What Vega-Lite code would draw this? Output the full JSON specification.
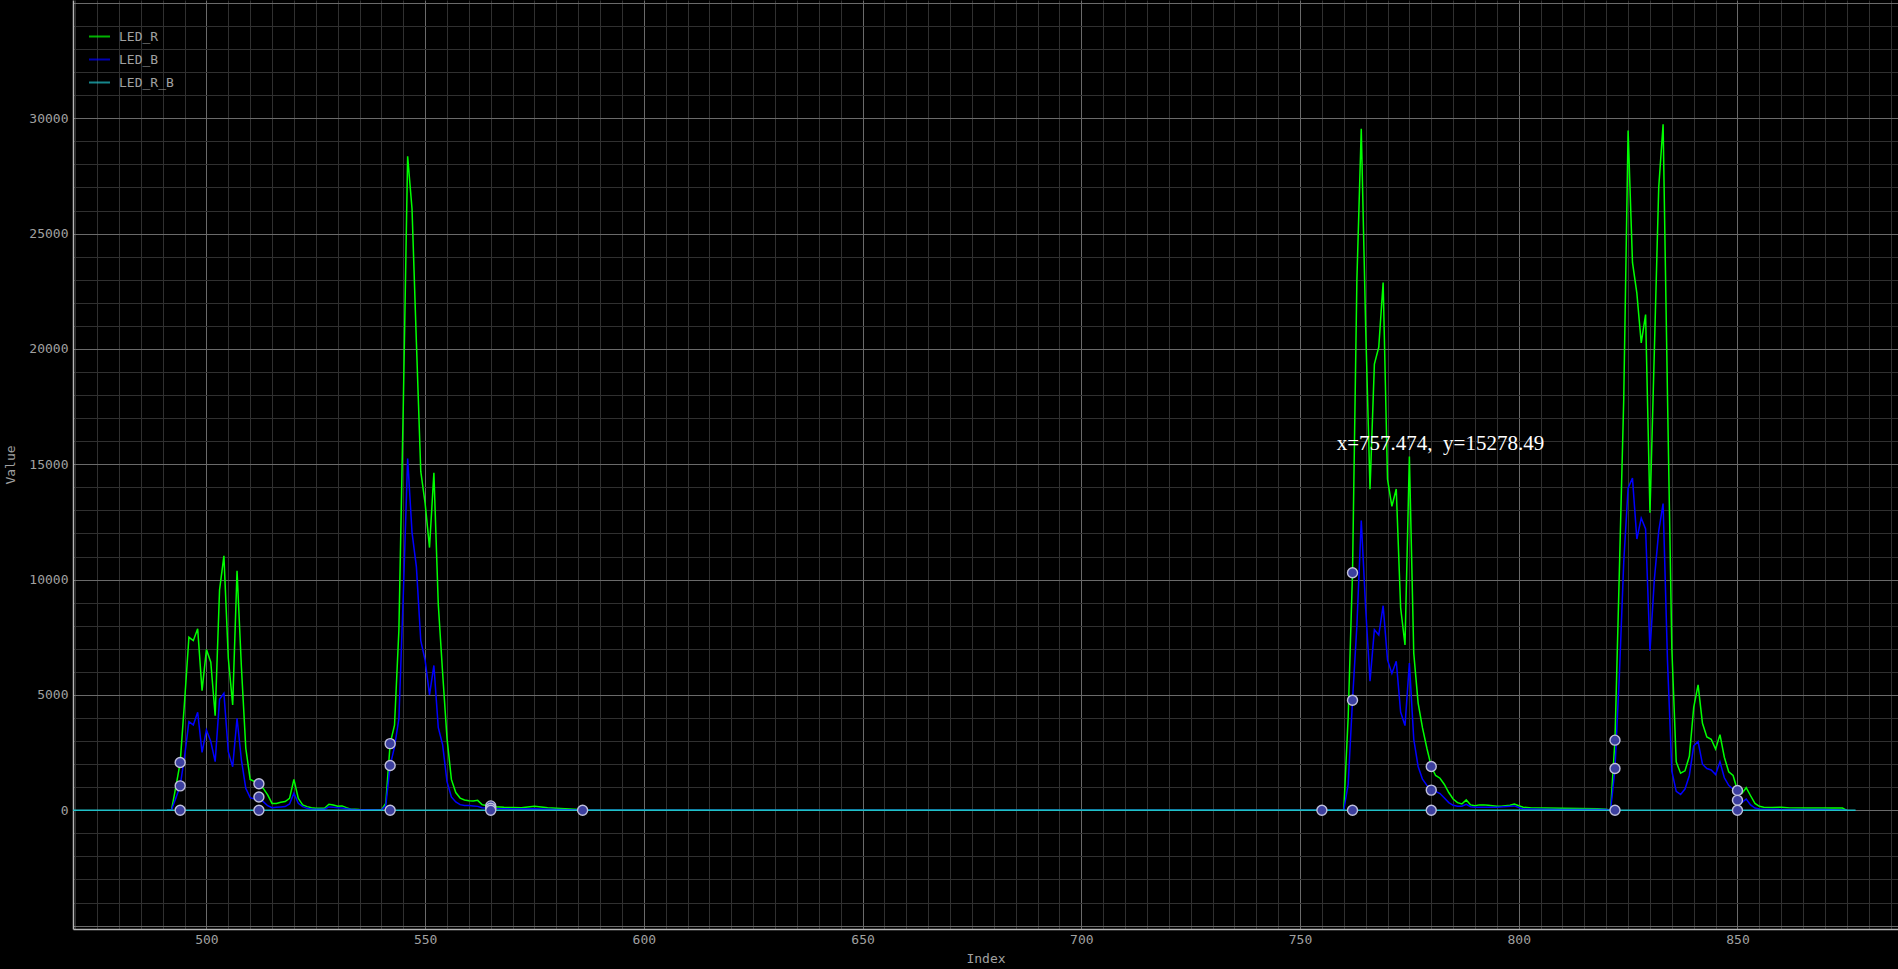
{
  "$schema": "https://vega.github.io/schema/vega-lite/v6.json",
  "width": 1825,
  "height": 929,
  "autosize": {"type": "none"},
  "padding": {"left": 73, "top": 0, "right": 0, "bottom": 40},
  "background": "#000000",
  "config": {
    "view": {"stroke": null, "fill": "#000000"},
    "font": "DejaVu Sans Mono",
    "axis": {
      "labelFont": "DejaVu Sans Mono",
      "labelFontSize": 13,
      "labelColor": "#a0a0a0",
      "titleFont": "DejaVu Sans Mono",
      "titleFontSize": 13,
      "titleColor": "#a0a0a0",
      "titleFontWeight": "normal",
      "domainColor": "#b4b4b4",
      "domainWidth": 1.5,
      "ticks": false,
      "tickSize": 0,
      "gridWidth": 1
    }
  },
  "datasets": {
    "lines": [
      {"i": 491, "s": "LED_R", "v": 0}, {"i": 492, "s": "LED_R", "v": 0}, {"i": 493, "s": "LED_R", "v": 1000}, {"i": 494, "s": "LED_R", "v": 2070},
      {"i": 495, "s": "LED_R", "v": 4700}, {"i": 496, "s": "LED_R", "v": 7500}, {"i": 497, "s": "LED_R", "v": 7355}, {"i": 498, "s": "LED_R", "v": 7870},
      {"i": 499, "s": "LED_R", "v": 5190}, {"i": 500, "s": "LED_R", "v": 6970}, {"i": 501, "s": "LED_R", "v": 6420}, {"i": 502, "s": "LED_R", "v": 4100},
      {"i": 503, "s": "LED_R", "v": 9550}, {"i": 504, "s": "LED_R", "v": 11030}, {"i": 505, "s": "LED_R", "v": 6600}, {"i": 506, "s": "LED_R", "v": 4570},
      {"i": 507, "s": "LED_R", "v": 10380}, {"i": 508, "s": "LED_R", "v": 6200}, {"i": 509, "s": "LED_R", "v": 2690}, {"i": 510, "s": "LED_R", "v": 1340},
      {"i": 511, "s": "LED_R", "v": 1250}, {"i": 512, "s": "LED_R", "v": 1150}, {"i": 513, "s": "LED_R", "v": 950}, {"i": 514, "s": "LED_R", "v": 670},
      {"i": 515, "s": "LED_R", "v": 300}, {"i": 516, "s": "LED_R", "v": 300}, {"i": 517, "s": "LED_R", "v": 350}, {"i": 518, "s": "LED_R", "v": 380},
      {"i": 519, "s": "LED_R", "v": 520}, {"i": 520, "s": "LED_R", "v": 1340}, {"i": 521, "s": "LED_R", "v": 520}, {"i": 522, "s": "LED_R", "v": 230},
      {"i": 523, "s": "LED_R", "v": 160}, {"i": 524, "s": "LED_R", "v": 115}, {"i": 525, "s": "LED_R", "v": 90}, {"i": 526, "s": "LED_R", "v": 90},
      {"i": 527, "s": "LED_R", "v": 90}, {"i": 528, "s": "LED_R", "v": 260}, {"i": 529, "s": "LED_R", "v": 230}, {"i": 530, "s": "LED_R", "v": 175},
      {"i": 531, "s": "LED_R", "v": 190}, {"i": 532, "s": "LED_R", "v": 115}, {"i": 533, "s": "LED_R", "v": 45}, {"i": 534, "s": "LED_R", "v": 45},
      {"i": 535, "s": "LED_R", "v": 35}, {"i": 537, "s": "LED_R", "v": 25}, {"i": 540, "s": "LED_R", "v": 20}, {"i": 541, "s": "LED_R", "v": 300},
      {"i": 542, "s": "LED_R", "v": 2890}, {"i": 543, "s": "LED_R", "v": 3690}, {"i": 544, "s": "LED_R", "v": 7820}, {"i": 545, "s": "LED_R", "v": 17500},
      {"i": 546, "s": "LED_R", "v": 28350}, {"i": 547, "s": "LED_R", "v": 26080}, {"i": 548, "s": "LED_R", "v": 20300}, {"i": 549, "s": "LED_R", "v": 14690},
      {"i": 550, "s": "LED_R", "v": 13300}, {"i": 551, "s": "LED_R", "v": 11390}, {"i": 552, "s": "LED_R", "v": 14630}, {"i": 553, "s": "LED_R", "v": 8950},
      {"i": 554, "s": "LED_R", "v": 5940}, {"i": 555, "s": "LED_R", "v": 3120}, {"i": 556, "s": "LED_R", "v": 1340}, {"i": 557, "s": "LED_R", "v": 770},
      {"i": 558, "s": "LED_R", "v": 530}, {"i": 559, "s": "LED_R", "v": 450}, {"i": 560, "s": "LED_R", "v": 410}, {"i": 561, "s": "LED_R", "v": 400},
      {"i": 562, "s": "LED_R", "v": 430}, {"i": 563, "s": "LED_R", "v": 245}, {"i": 564, "s": "LED_R", "v": 210}, {"i": 565, "s": "LED_R", "v": 190},
      {"i": 566, "s": "LED_R", "v": 150}, {"i": 568, "s": "LED_R", "v": 130}, {"i": 570, "s": "LED_R", "v": 120}, {"i": 572, "s": "LED_R", "v": 115},
      {"i": 574, "s": "LED_R", "v": 150}, {"i": 575, "s": "LED_R", "v": 170}, {"i": 576, "s": "LED_R", "v": 150}, {"i": 578, "s": "LED_R", "v": 110},
      {"i": 580, "s": "LED_R", "v": 90}, {"i": 582, "s": "LED_R", "v": 70}, {"i": 584, "s": "LED_R", "v": 45}, {"i": 585, "s": "LED_R", "v": 30},
      {"i": 586, "s": "LED_R", "v": 0}, {"i": 760, "s": "LED_R", "v": 0}, {"i": 761, "s": "LED_R", "v": 4000}, {"i": 762, "s": "LED_R", "v": 10300},
      {"i": 763, "s": "LED_R", "v": 23000}, {"i": 764, "s": "LED_R", "v": 29550}, {"i": 765, "s": "LED_R", "v": 21000}, {"i": 766, "s": "LED_R", "v": 13920},
      {"i": 767, "s": "LED_R", "v": 19340}, {"i": 768, "s": "LED_R", "v": 20080}, {"i": 769, "s": "LED_R", "v": 22880}, {"i": 770, "s": "LED_R", "v": 14350},
      {"i": 771, "s": "LED_R", "v": 13180}, {"i": 772, "s": "LED_R", "v": 13930}, {"i": 773, "s": "LED_R", "v": 8780}, {"i": 774, "s": "LED_R", "v": 7170},
      {"i": 775, "s": "LED_R", "v": 15340}, {"i": 776, "s": "LED_R", "v": 6810}, {"i": 777, "s": "LED_R", "v": 4650}, {"i": 778, "s": "LED_R", "v": 3570},
      {"i": 779, "s": "LED_R", "v": 2690}, {"i": 780, "s": "LED_R", "v": 1900}, {"i": 781, "s": "LED_R", "v": 1510}, {"i": 782, "s": "LED_R", "v": 1390},
      {"i": 783, "s": "LED_R", "v": 1120}, {"i": 784, "s": "LED_R", "v": 770}, {"i": 785, "s": "LED_R", "v": 490}, {"i": 786, "s": "LED_R", "v": 330},
      {"i": 787, "s": "LED_R", "v": 275}, {"i": 788, "s": "LED_R", "v": 450}, {"i": 789, "s": "LED_R", "v": 235}, {"i": 790, "s": "LED_R", "v": 195},
      {"i": 791, "s": "LED_R", "v": 235}, {"i": 792, "s": "LED_R", "v": 235}, {"i": 793, "s": "LED_R", "v": 215}, {"i": 794, "s": "LED_R", "v": 195},
      {"i": 795, "s": "LED_R", "v": 175}, {"i": 796, "s": "LED_R", "v": 175}, {"i": 797, "s": "LED_R", "v": 195}, {"i": 798, "s": "LED_R", "v": 215},
      {"i": 799, "s": "LED_R", "v": 275}, {"i": 800, "s": "LED_R", "v": 195}, {"i": 801, "s": "LED_R", "v": 135}, {"i": 803, "s": "LED_R", "v": 105},
      {"i": 806, "s": "LED_R", "v": 100}, {"i": 810, "s": "LED_R", "v": 90}, {"i": 814, "s": "LED_R", "v": 80}, {"i": 818, "s": "LED_R", "v": 65},
      {"i": 820, "s": "LED_R", "v": 45}, {"i": 821, "s": "LED_R", "v": 0}, {"i": 822, "s": "LED_R", "v": 3040}, {"i": 823, "s": "LED_R", "v": 10350},
      {"i": 824, "s": "LED_R", "v": 17800}, {"i": 825, "s": "LED_R", "v": 29470}, {"i": 826, "s": "LED_R", "v": 23750}, {"i": 827, "s": "LED_R", "v": 22420},
      {"i": 828, "s": "LED_R", "v": 20260}, {"i": 829, "s": "LED_R", "v": 21490}, {"i": 830, "s": "LED_R", "v": 12900}, {"i": 831, "s": "LED_R", "v": 19900},
      {"i": 832, "s": "LED_R", "v": 27000}, {"i": 833, "s": "LED_R", "v": 29740}, {"i": 834, "s": "LED_R", "v": 18000}, {"i": 835, "s": "LED_R", "v": 7000},
      {"i": 836, "s": "LED_R", "v": 2100}, {"i": 837, "s": "LED_R", "v": 1610}, {"i": 838, "s": "LED_R", "v": 1710}, {"i": 839, "s": "LED_R", "v": 2340},
      {"i": 840, "s": "LED_R", "v": 4460}, {"i": 841, "s": "LED_R", "v": 5440}, {"i": 842, "s": "LED_R", "v": 3770}, {"i": 843, "s": "LED_R", "v": 3180},
      {"i": 844, "s": "LED_R", "v": 3080}, {"i": 845, "s": "LED_R", "v": 2650}, {"i": 846, "s": "LED_R", "v": 3280}, {"i": 847, "s": "LED_R", "v": 2300},
      {"i": 848, "s": "LED_R", "v": 1670}, {"i": 849, "s": "LED_R", "v": 1510}, {"i": 850, "s": "LED_R", "v": 860}, {"i": 851, "s": "LED_R", "v": 730},
      {"i": 852, "s": "LED_R", "v": 980}, {"i": 853, "s": "LED_R", "v": 630}, {"i": 854, "s": "LED_R", "v": 295}, {"i": 855, "s": "LED_R", "v": 175},
      {"i": 856, "s": "LED_R", "v": 135}, {"i": 858, "s": "LED_R", "v": 120}, {"i": 860, "s": "LED_R", "v": 135}, {"i": 862, "s": "LED_R", "v": 105},
      {"i": 866, "s": "LED_R", "v": 100}, {"i": 870, "s": "LED_R", "v": 105}, {"i": 874, "s": "LED_R", "v": 95}, {"i": 875, "s": "LED_R", "v": 0},

      {"i": 491, "s": "LED_B", "v": 0}, {"i": 492, "s": "LED_B", "v": 0}, {"i": 493, "s": "LED_B", "v": 520}, {"i": 494, "s": "LED_B", "v": 1060},
      {"i": 495, "s": "LED_B", "v": 2330}, {"i": 496, "s": "LED_B", "v": 3840}, {"i": 497, "s": "LED_B", "v": 3700}, {"i": 498, "s": "LED_B", "v": 4250},
      {"i": 499, "s": "LED_B", "v": 2510}, {"i": 500, "s": "LED_B", "v": 3480}, {"i": 501, "s": "LED_B", "v": 2980}, {"i": 502, "s": "LED_B", "v": 2110},
      {"i": 503, "s": "LED_B", "v": 4810}, {"i": 504, "s": "LED_B", "v": 5070}, {"i": 505, "s": "LED_B", "v": 2540}, {"i": 506, "s": "LED_B", "v": 1890},
      {"i": 507, "s": "LED_B", "v": 3990}, {"i": 508, "s": "LED_B", "v": 2180}, {"i": 509, "s": "LED_B", "v": 950}, {"i": 510, "s": "LED_B", "v": 550},
      {"i": 511, "s": "LED_B", "v": 490}, {"i": 512, "s": "LED_B", "v": 577}, {"i": 513, "s": "LED_B", "v": 375}, {"i": 514, "s": "LED_B", "v": 200},
      {"i": 515, "s": "LED_B", "v": 115}, {"i": 516, "s": "LED_B", "v": 130}, {"i": 517, "s": "LED_B", "v": 145}, {"i": 518, "s": "LED_B", "v": 160},
      {"i": 519, "s": "LED_B", "v": 275}, {"i": 520, "s": "LED_B", "v": 740}, {"i": 521, "s": "LED_B", "v": 300}, {"i": 522, "s": "LED_B", "v": 160},
      {"i": 523, "s": "LED_B", "v": 85}, {"i": 524, "s": "LED_B", "v": 60}, {"i": 525, "s": "LED_B", "v": 45}, {"i": 527, "s": "LED_B", "v": 45},
      {"i": 528, "s": "LED_B", "v": 145}, {"i": 529, "s": "LED_B", "v": 130}, {"i": 530, "s": "LED_B", "v": 115}, {"i": 531, "s": "LED_B", "v": 100},
      {"i": 532, "s": "LED_B", "v": 70}, {"i": 533, "s": "LED_B", "v": 45}, {"i": 534, "s": "LED_B", "v": 30}, {"i": 536, "s": "LED_B", "v": 20},
      {"i": 540, "s": "LED_B", "v": 10}, {"i": 541, "s": "LED_B", "v": 200}, {"i": 542, "s": "LED_B", "v": 1940}, {"i": 543, "s": "LED_B", "v": 2750},
      {"i": 544, "s": "LED_B", "v": 3970}, {"i": 545, "s": "LED_B", "v": 9300}, {"i": 546, "s": "LED_B", "v": 15250}, {"i": 547, "s": "LED_B", "v": 12050},
      {"i": 548, "s": "LED_B", "v": 10550}, {"i": 549, "s": "LED_B", "v": 7350}, {"i": 550, "s": "LED_B", "v": 6500}, {"i": 551, "s": "LED_B", "v": 5000},
      {"i": 552, "s": "LED_B", "v": 6280}, {"i": 553, "s": "LED_B", "v": 3590}, {"i": 554, "s": "LED_B", "v": 2840}, {"i": 555, "s": "LED_B", "v": 1240},
      {"i": 556, "s": "LED_B", "v": 580}, {"i": 557, "s": "LED_B", "v": 360}, {"i": 558, "s": "LED_B", "v": 245}, {"i": 559, "s": "LED_B", "v": 205},
      {"i": 560, "s": "LED_B", "v": 205}, {"i": 561, "s": "LED_B", "v": 190}, {"i": 562, "s": "LED_B", "v": 170}, {"i": 563, "s": "LED_B", "v": 115},
      {"i": 564, "s": "LED_B", "v": 95}, {"i": 565, "s": "LED_B", "v": 87}, {"i": 566, "s": "LED_B", "v": 75}, {"i": 570, "s": "LED_B", "v": 60},
      {"i": 575, "s": "LED_B", "v": 70}, {"i": 580, "s": "LED_B", "v": 40}, {"i": 585, "s": "LED_B", "v": 15}, {"i": 586, "s": "LED_B", "v": 0},
      {"i": 760, "s": "LED_B", "v": 0}, {"i": 761, "s": "LED_B", "v": 1120}, {"i": 762, "s": "LED_B", "v": 4770}, {"i": 763, "s": "LED_B", "v": 8000},
      {"i": 764, "s": "LED_B", "v": 12560}, {"i": 765, "s": "LED_B", "v": 8780}, {"i": 766, "s": "LED_B", "v": 5600}, {"i": 767, "s": "LED_B", "v": 7830},
      {"i": 768, "s": "LED_B", "v": 7600}, {"i": 769, "s": "LED_B", "v": 8870}, {"i": 770, "s": "LED_B", "v": 6520}, {"i": 771, "s": "LED_B", "v": 5930},
      {"i": 772, "s": "LED_B", "v": 6460}, {"i": 773, "s": "LED_B", "v": 4260}, {"i": 774, "s": "LED_B", "v": 3670}, {"i": 775, "s": "LED_B", "v": 6380},
      {"i": 776, "s": "LED_B", "v": 3080}, {"i": 777, "s": "LED_B", "v": 1900}, {"i": 778, "s": "LED_B", "v": 1350}, {"i": 779, "s": "LED_B", "v": 1080},
      {"i": 780, "s": "LED_B", "v": 875}, {"i": 781, "s": "LED_B", "v": 820}, {"i": 782, "s": "LED_B", "v": 725}, {"i": 783, "s": "LED_B", "v": 530},
      {"i": 784, "s": "LED_B", "v": 335}, {"i": 785, "s": "LED_B", "v": 215}, {"i": 786, "s": "LED_B", "v": 175}, {"i": 787, "s": "LED_B", "v": 175},
      {"i": 788, "s": "LED_B", "v": 255}, {"i": 789, "s": "LED_B", "v": 155}, {"i": 790, "s": "LED_B", "v": 135}, {"i": 795, "s": "LED_B", "v": 130},
      {"i": 799, "s": "LED_B", "v": 190}, {"i": 800, "s": "LED_B", "v": 120}, {"i": 801, "s": "LED_B", "v": 60}, {"i": 810, "s": "LED_B", "v": 40},
      {"i": 820, "s": "LED_B", "v": 30}, {"i": 821, "s": "LED_B", "v": 0}, {"i": 822, "s": "LED_B", "v": 1815}, {"i": 823, "s": "LED_B", "v": 5830},
      {"i": 824, "s": "LED_B", "v": 10740}, {"i": 825, "s": "LED_B", "v": 13980}, {"i": 826, "s": "LED_B", "v": 14400}, {"i": 827, "s": "LED_B", "v": 11760},
      {"i": 828, "s": "LED_B", "v": 12670}, {"i": 829, "s": "LED_B", "v": 12200}, {"i": 830, "s": "LED_B", "v": 6910}, {"i": 831, "s": "LED_B", "v": 10000},
      {"i": 832, "s": "LED_B", "v": 12100}, {"i": 833, "s": "LED_B", "v": 13300}, {"i": 834, "s": "LED_B", "v": 6500}, {"i": 835, "s": "LED_B", "v": 1700},
      {"i": 836, "s": "LED_B", "v": 820}, {"i": 837, "s": "LED_B", "v": 690}, {"i": 838, "s": "LED_B", "v": 920}, {"i": 839, "s": "LED_B", "v": 1510},
      {"i": 840, "s": "LED_B", "v": 2790}, {"i": 841, "s": "LED_B", "v": 2980}, {"i": 842, "s": "LED_B", "v": 2000}, {"i": 843, "s": "LED_B", "v": 1810},
      {"i": 844, "s": "LED_B", "v": 1750}, {"i": 845, "s": "LED_B", "v": 1550}, {"i": 846, "s": "LED_B", "v": 2100}, {"i": 847, "s": "LED_B", "v": 1410},
      {"i": 848, "s": "LED_B", "v": 1080}, {"i": 849, "s": "LED_B", "v": 920}, {"i": 850, "s": "LED_B", "v": 432}, {"i": 851, "s": "LED_B", "v": 335},
      {"i": 852, "s": "LED_B", "v": 490}, {"i": 853, "s": "LED_B", "v": 235}, {"i": 854, "s": "LED_B", "v": 100}, {"i": 855, "s": "LED_B", "v": 60},
      {"i": 860, "s": "LED_B", "v": 40}, {"i": 870, "s": "LED_B", "v": 30}, {"i": 875, "s": "LED_B", "v": 0},

      {"i": 469, "s": "LED_R_B", "v": 0}, {"i": 494, "s": "LED_R_B", "v": 0}, {"i": 512, "s": "LED_R_B", "v": 0}, {"i": 542, "s": "LED_R_B", "v": 0},
      {"i": 565, "s": "LED_R_B", "v": 0}, {"i": 586, "s": "LED_R_B", "v": 0}, {"i": 755, "s": "LED_R_B", "v": 0}, {"i": 762, "s": "LED_R_B", "v": 0},
      {"i": 780, "s": "LED_R_B", "v": 0}, {"i": 822, "s": "LED_R_B", "v": 0}, {"i": 850, "s": "LED_R_B", "v": 0}, {"i": 877, "s": "LED_R_B", "v": 0}
    ],
    "pts": [
      {"i": 494, "v": 2070}, {"i": 494, "v": 1060}, {"i": 494, "v": 0},
      {"i": 512, "v": 1150}, {"i": 512, "v": 577}, {"i": 512, "v": 0},
      {"i": 542, "v": 2890}, {"i": 542, "v": 1940}, {"i": 542, "v": 0},
      {"i": 565, "v": 190}, {"i": 565, "v": 87}, {"i": 565, "v": 0},
      {"i": 586, "v": 0},
      {"i": 755, "v": 0},
      {"i": 762, "v": 10300}, {"i": 762, "v": 4770}, {"i": 762, "v": 0},
      {"i": 780, "v": 1900}, {"i": 780, "v": 875}, {"i": 780, "v": 0},
      {"i": 822, "v": 3040}, {"i": 822, "v": 1815}, {"i": 822, "v": 0},
      {"i": 850, "v": 860}, {"i": 850, "v": 432}, {"i": 850, "v": 0}
    ],
    "note": [
      {"i": 757.474, "v": 15278.49, "t": "x=757.474, \u00a0y=15278.49"}
    ]
  },
  "layer": [
    {
      "data": {"name": "lines"},
      "transform": [{"filter": "datum.s === 'LED_R'"}],
      "mark": {"type": "line", "strokeWidth": 1.5, "clip": true},
      "encoding": {
        "x": {
          "field": "i", "type": "quantitative",
          "scale": {"domain": [469.5, 886.7], "nice": false, "zero": false},
          "axis": {
            "orient": "top", "grid": true, "gridColor": "#303030", "labels": false, "domain": false, "ticks": false, "title": null,
            "values": [470, 475, 480, 485, 490, 495, 505, 510, 515, 520, 525, 530, 535, 540, 545, 555, 560, 565, 570, 575, 580, 585, 590, 595, 605, 610, 615, 620, 625, 630, 635, 640, 645, 655, 660, 665, 670, 675, 680, 685, 690, 695, 705, 710, 715, 720, 725, 730, 735, 740, 745, 755, 760, 765, 770, 775, 780, 785, 790, 795, 805, 810, 815, 820, 825, 830, 835, 840, 845, 855, 860, 865, 870, 875, 880, 885]
          }
        },
        "y": {
          "field": "v", "type": "quantitative",
          "scale": {"domain": [-5146, 35128], "nice": false, "zero": false},
          "axis": {
            "orient": "right", "grid": true, "gridColor": "#303030", "labels": false, "domain": false, "ticks": false, "title": null,
            "values": [-4000, -3000, -2000, -1000, 1000, 2000, 3000, 4000, 6000, 7000, 8000, 9000, 11000, 12000, 13000, 14000, 16000, 17000, 18000, 19000, 21000, 22000, 23000, 24000, 26000, 27000, 28000, 29000, 31000, 32000, 33000, 34000]
          }
        },
        "color": {
          "field": "s", "type": "nominal",
          "scale": {"domain": ["LED_R", "LED_B", "LED_R_B"], "range": ["#00ff00", "#0000ff", "#20c0c8"]},
          "legend": {
            "title": null, "orient": "none", "legendX": 15, "legendY": 25, "padding": 0,
            "symbolType": "stroke", "symbolSize": 441, "symbolStrokeWidth": 2, "symbolOpacity": 0.7,
            "labelFont": "DejaVu Sans Mono", "labelFontSize": 13, "labelColor": "#a0a0a0", "labelOffset": 8, "rowPadding": 4
          }
        }
      }
    },
    {
      "data": {"name": "lines"},
      "transform": [{"filter": "datum.s === 'LED_B'"}],
      "mark": {"type": "line", "strokeWidth": 1.5, "clip": true},
      "encoding": {
        "x": {"field": "i", "type": "quantitative", "scale": {"domain": [469.5, 886.7], "nice": false, "zero": false}, "axis": null},
        "y": {"field": "v", "type": "quantitative", "scale": {"domain": [-5146, 35128], "nice": false, "zero": false}, "axis": null},
        "color": {"field": "s", "type": "nominal", "scale": {"domain": ["LED_R", "LED_B", "LED_R_B"], "range": ["#00ff00", "#0000ff", "#20c0c8"]}, "legend": null}
      }
    },
    {
      "data": {"name": "lines"},
      "transform": [{"filter": "datum.s === 'LED_R_B'"}],
      "mark": {"type": "line", "strokeWidth": 1.5, "clip": true},
      "encoding": {
        "x": {"field": "i", "type": "quantitative", "scale": {"domain": [469.5, 886.7], "nice": false, "zero": false}, "axis": null},
        "y": {"field": "v", "type": "quantitative", "scale": {"domain": [-5146, 35128], "nice": false, "zero": false}, "axis": null},
        "color": {"field": "s", "type": "nominal", "scale": {"domain": ["LED_R", "LED_B", "LED_R_B"], "range": ["#00ff00", "#0000ff", "#20c0c8"]}, "legend": null}
      }
    },
    {
      "data": {"name": "pts"},
      "mark": {"type": "circle", "size": 100, "fill": "#3c3f9e", "stroke": "#c0c0dc", "strokeWidth": 1.4, "opacity": 1, "fillOpacity": 1, "strokeOpacity": 1},
      "encoding": {
        "x": {
          "field": "i", "type": "quantitative",
          "scale": {"domain": [469.5, 886.7], "nice": false, "zero": false},
          "axis": {
            "orient": "bottom", "values": [500, 550, 600, 650, 700, 750, 800, 850], "format": "d",
            "grid": true, "gridColor": "#6a6a6a", "title": "Index", "labelPadding": 4, "titlePadding": 6, "labelFlush": false
          }
        },
        "y": {
          "field": "v", "type": "quantitative",
          "scale": {"domain": [-5146, 35128], "nice": false, "zero": false},
          "axis": {
            "orient": "left", "values": [-5000, 0, 5000, 10000, 15000, 20000, 25000, 30000, 35000], "format": "d",
            "labelExpr": "datum.value < 0 || datum.value > 30000 ? '' : datum.label",
            "grid": true, "gridColor": "#6a6a6a", "title": "Value", "labelPadding": 5, "titlePadding": 11, "labelFlush": false
          }
        }
      }
    },
    {
      "data": {"name": "note"},
      "mark": {"type": "text", "align": "left", "baseline": "alphabetic", "dx": 4, "dy": -8, "font": "Liberation Serif", "fontSize": 21, "color": "#ffffff"},
      "encoding": {
        "x": {"field": "i", "type": "quantitative", "scale": {"domain": [469.5, 886.7], "nice": false, "zero": false}, "axis": null},
        "y": {"field": "v", "type": "quantitative", "scale": {"domain": [-5146, 35128], "nice": false, "zero": false}, "axis": null},
        "text": {"field": "t"}
      }
    }
  ],
  "resolve": {"axis": {"x": "independent", "y": "independent"}}
}
